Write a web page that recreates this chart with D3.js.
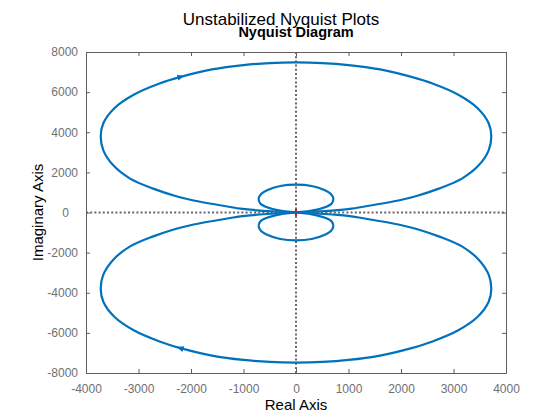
<!DOCTYPE html>
<html>
<head>
<meta charset="utf-8">
<script src="https://cdn.jsdelivr.net/npm/d3@7"></script>
<style>
  html, body { margin: 0; padding: 0; background: #fff; }
  svg { display: block; font-family: "Liberation Sans", Arial, Helvetica, sans-serif; }
</style>
</head>
<body>
<div id="chart"></div>
<script>
// Nyquist curve, upper big loop (origin -> left -> top -> right -> origin)
const bigUpperRe = [0, -740, -1060, -1250, -1970, -2280, -2720, -3160, -3480, -3670, -3720, -3670, -3460, -3100, -2600, -2200, -1600, -1000, -500, 0,
                    500, 1000, 1600, 2200, 2600, 3100, 3460, 3670, 3720, 3670, 3480, 3160, 2720, 2280, 1970, 1250, 1060, 740, 0];
const bigUpperIm = [0, 110, 195, 275, 610, 810, 1190, 1690, 2350, 3100, 3800, 4450, 5200, 5860, 6430, 6760, 7130, 7350, 7450, 7480,
                    7450, 7350, 7130, 6760, 6430, 5860, 5200, 4450, 3800, 3100, 2350, 1690, 1190, 810, 610, 275, 195, 110, 0];
// lower big loop (conjugate branch)
const bigLowerRe = [0, -740, -1060, -1250, -1970, -2280, -2720, -3160, -3480, -3670, -3720, -3670, -3460, -3100, -2600, -2200, -1600, -1000, -500, 0,
                    500, 1000, 1600, 2200, 2600, 3100, 3460, 3670, 3720, 3670, 3480, 3160, 2720, 2280, 1970, 1250, 1060, 740, 0];
const bigLowerIm = [0, -110, -195, -275, -610, -810, -1190, -1690, -2350, -3100, -3800, -4450, -5200, -5860, -6430, -6760, -7130, -7350, -7450, -7480,
                    -7450, -7350, -7130, -6760, -6430, -5860, -5200, -4450, -3800, -3100, -2350, -1690, -1190, -810, -610, -275, -195, -110, 0];
// small loops around the origin
const smallUpperRe = [0, -300, -550, -680, -712, -660, -550, -300, 0, 300, 550, 660, 712, 680, 550, 300, 0];
const smallUpperIm = [0, 90, 260, 450, 690, 930, 1110, 1320, 1390, 1320, 1110, 930, 690, 450, 260, 90, 0];
const smallLowerRe = [0, -300, -550, -680, -712, -660, -550, -300, 0, 300, 550, 660, 712, 680, 550, 300, 0];
const smallLowerIm = [0, -90, -260, -450, -690, -930, -1110, -1320, -1390, -1320, -1110, -930, -690, -450, -260, -90, 0];

// direction arrows: position index in loop, and index it points toward
const arrowLoop = ["upper", "lower"];
const arrowAt = [15, 15];
const arrowToward = [16, 14];

// critical point
const critRe = -1, critIm = 0;

const xTicks = [-4000, -3000, -2000, -1000, 0, 1000, 2000, 3000, 4000];
const yTicks = [-8000, -6000, -4000, -2000, 0, 2000, 4000, 6000, 8000];

const W = 560, H = 420;
const margin = { top: 52, right: 54, bottom: 47, left: 86 };
const width = W - margin.left - margin.right;
const height = H - margin.top - margin.bottom;

const svg = d3.select('#chart').append('svg')
    .attr('width', W)
    .attr('height', H);

svg.append('rect').attr('width', W).attr('height', H).attr('fill', '#fff');

const g = svg.append('g')
    .attr('transform', `translate(${margin.left},${margin.top})`);

const x = d3.scaleLinear().domain([-4000, 4000]).range([0, width]);
const y = d3.scaleLinear().domain([-8000, 8000]).range([height, 0]);

const axisColor = '#5e5e5e';
const labelColor = '#707070';

function styleAxis(sel) {
    sel.select('.domain').attr('stroke', axisColor);
    sel.selectAll('.tick line').attr('stroke', axisColor);
    sel.selectAll('.tick text').attr('fill', labelColor).style('font-size', '12px');
}

// bottom axis with labels
g.append('g')
    .attr('transform', `translate(0,${height})`)
    .call(d3.axisBottom(x).tickValues(xTicks).tickFormat(d => String(d))
        .tickSizeInner(-4).tickSizeOuter(0).tickPadding(11))
    .call(styleAxis);

// left axis with labels
const leftAxis = g.append('g')
    .call(d3.axisLeft(y).tickValues(yTicks).tickFormat(d => String(d))
        .tickSizeInner(-4).tickSizeOuter(0).tickPadding(8))
    .call(styleAxis);
leftAxis.selectAll('.tick text').filter(d => d === 0).attr('dx', -9);

// top and right axes (box)
g.append('g')
    .call(d3.axisTop(x).tickValues(xTicks).tickFormat('')
        .tickSizeInner(-4).tickSizeOuter(0))
    .call(styleAxis);
g.append('g')
    .attr('transform', `translate(${width},0)`)
    .call(d3.axisRight(y).tickValues(yTicks).tickFormat('')
        .tickSizeInner(-4).tickSizeOuter(0))
    .call(styleAxis);

// dotted zero lines
g.append('line')
    .attr('x1', x(0)).attr('x2', x(0)).attr('y1', 0).attr('y2', height)
    .attr('stroke', '#666').attr('stroke-width', 2).attr('stroke-dasharray', '2,2.2');
g.append('line')
    .attr('x1', 0).attr('x2', width).attr('y1', y(0)).attr('y2', y(0))
    .attr('stroke', '#666').attr('stroke-width', 2).attr('stroke-dasharray', '2,2.2');

// critical point marker
const cx = x(critRe), cy = y(critIm);
g.append('path')
    .attr('d', `M${cx - 3.5},${cy}H${cx + 3.5}M${cx},${cy - 3.5}V${cy + 3.5}`)
    .attr('stroke', '#ff0000').attr('stroke-width', 2).attr('fill', 'none');

// curves
const line = d3.line()
    .x(d => x(d[0]))
    .y(d => y(d[1]))
    .curve(d3.curveCatmullRom.alpha(0.5));

const zip = (re, im) => re.map((r, i) => [r, im[i]]);
const loops = {
    upper: zip(bigUpperRe, bigUpperIm),
    lower: zip(bigLowerRe, bigLowerIm),
    smallUpper: zip(smallUpperRe, smallUpperIm),
    smallLower: zip(smallLowerRe, smallLowerIm)
};

Object.values(loops).forEach(pts => {
    g.append('path')
        .attr('d', line(pts))
        .attr('fill', 'none')
        .attr('stroke', '#0072BD')
        .attr('stroke-width', 2.2)
        .attr('stroke-linejoin', 'round');
});

// arrows
arrowLoop.forEach((name, i) => {
    const p = loops[name][arrowAt[i]];
    const q = loops[name][arrowToward[i]];
    const px = x(p[0]), py = y(p[1]);
    const ang = Math.atan2(y(q[1]) - py, x(q[0]) - px) * 180 / Math.PI;
    g.append('path')
        .attr('d', 'M4,0L-3,-3L-3,3Z')
        .attr('transform', `translate(${px},${py}) rotate(${ang})`)
        .attr('fill', '#0072BD');
});

// titles and labels
svg.append('text')
    .attr('x', 281).attr('y', 25)
    .attr('text-anchor', 'middle')
    .style('font-size', '17px')
    .attr('fill', '#000')
    .text('Unstabilized Nyquist Plots');

svg.append('text')
    .attr('x', margin.left + width / 2).attr('y', 37)
    .attr('text-anchor', 'middle')
    .style('font-size', '14.5px')
    .style('font-weight', 'bold')
    .attr('fill', '#000')
    .text('Nyquist Diagram');

svg.append('text')
    .attr('x', margin.left + width / 2).attr('y', 410)
    .attr('text-anchor', 'middle')
    .style('font-size', '15px')
    .attr('fill', '#000')
    .text('Real Axis');

svg.append('text')
    .attr('transform', `translate(43,${margin.top + height / 2}) rotate(-90)`)
    .attr('text-anchor', 'middle')
    .style('font-size', '15px')
    .attr('fill', '#000')
    .text('Imaginary Axis');
</script>
</body>
</html>
